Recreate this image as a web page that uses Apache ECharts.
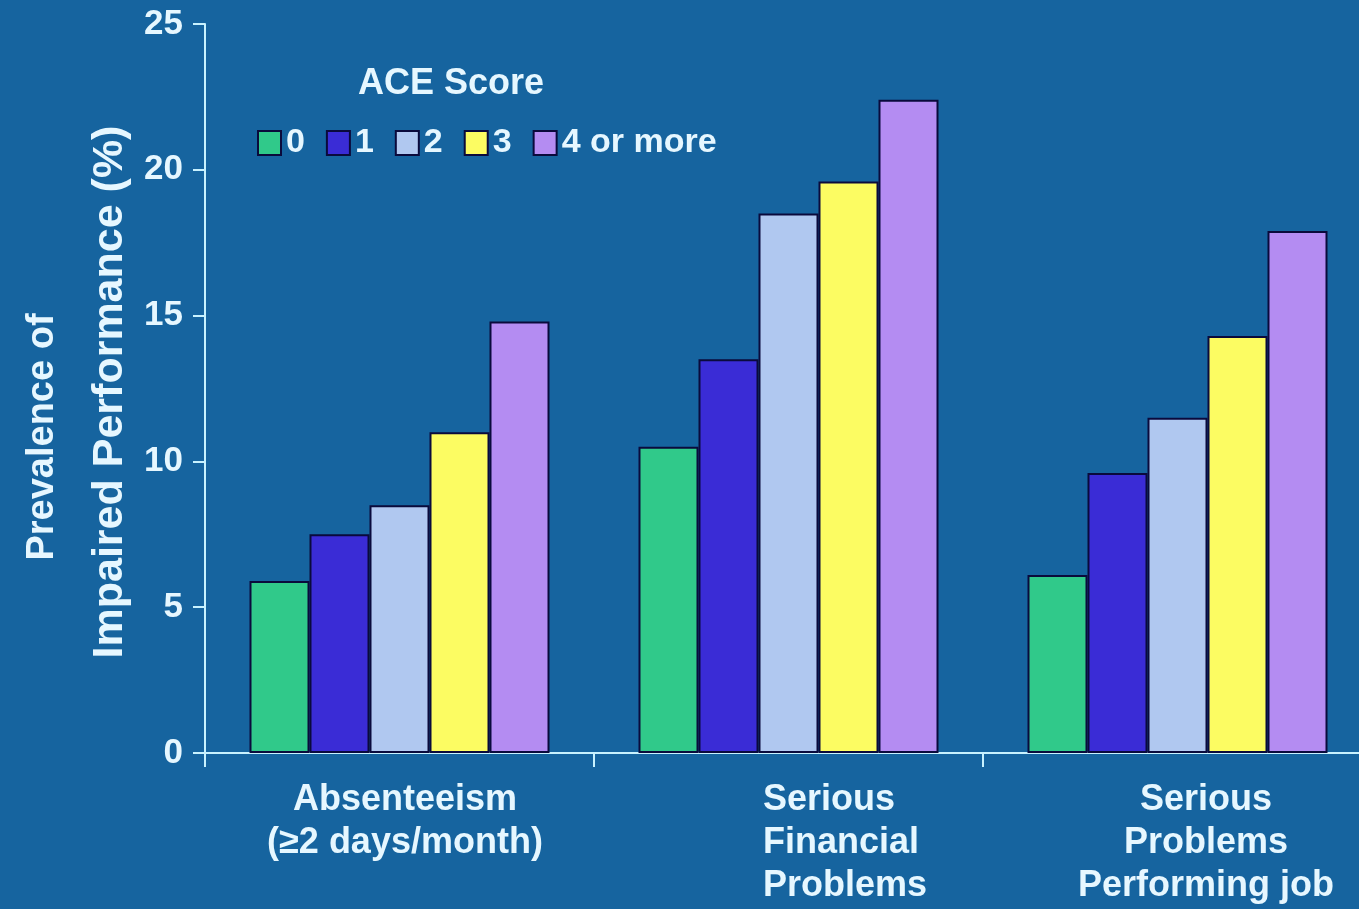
<!DOCTYPE html>
<html>
<head>
<meta charset="utf-8">
<script src="https://cdn.jsdelivr.net/npm/echarts@6/dist/echarts.min.js"></script>
<style>
html,body{margin:0;padding:0;background:#16649f;}
#chart{width:1359px;height:909px;}
</style>
</head>
<body>
<div id="chart"></div>
<script>
const categories = ['Absenteeism\n(≥2 days/month)', 'Serious\nFinancial\nProblems', 'Serious\nProblems\nPerforming job'];
const aceScores = ['0', '1', '2', '3', '4 or more'];
const score0 = [5.9, 10.5, 6.1];
const score1 = [7.5, 13.5, 9.6];
const score2 = [8.5, 18.5, 11.5];
const score3 = [11.0, 19.6, 14.3];
const score4plus = [14.8, 22.4, 17.9];
const seriesValues = [score0, score1, score2, score3, score4plus];
const yMin = 0, yMax = 25, yInterval = 5;
const legendTitle = 'ACE Score';
const yTitleLine1 = 'Prevalence of';
const yTitleLine2 = 'Impaired Performance (%)';

const barColors = ['#30c98a', '#3a2cd6', '#b0c8f0', '#fcfc62', '#b48cf2'];
const textColor = '#e6f7ff';
const axisColor = '#c8f2ff';
const font = 'Liberation Sans, Arial, sans-serif';

const chart = echarts.init(document.getElementById('chart'));

const labelStyle = { color: textColor, fontSize: 36, fontWeight: 'bold', fontFamily: font, lineHeight: 43 };

chart.setOption({
  backgroundColor: '#16649f',
  animation: false,
  title: {
    text: legendTitle,
    left: 358,
    top: 66,
    padding: 0,
    textStyle: { color: textColor, fontSize: 36, fontWeight: 'bold', fontFamily: font }
  },
  legend: {
    data: aceScores,
    left: 257,
    top: 126,
    padding: 0,
    icon: 'rect',
    itemWidth: 23,
    itemHeight: 24,
    itemGap: 21,
    textStyle: { color: textColor, fontSize: 34, fontWeight: 'bold', fontFamily: font }
  },
  grid: { left: 205, width: 1167, top: 24, bottom: 156, containLabel: false, outerBoundsMode: 'none' },
  xAxis: {
    type: 'category',
    data: categories,
    axisLine: { lineStyle: { color: axisColor, width: 2 } },
    axisTick: { show: true, length: 14, lineStyle: { color: axisColor, width: 2 } },
    axisLabel: {
      interval: 0,
      margin: 26,
      color: textColor,
      fontSize: 36,
      fontWeight: 'bold',
      fontFamily: font,
      lineHeight: 43,
      hideOverlap: false,
      formatter: function (value, index) {
        const key = 'c' + index;
        return value.split('\n').map(function (l) { return '{' + key + '|' + l + '}'; }).join('\n');
      },
      rich: {
        c0: Object.assign({ padding: [0, 0, 0, 11] }, labelStyle),
        c1: Object.assign({ width: 51, align: 'left' }, labelStyle),
        c2: Object.assign({ padding: [0, 0, 0, 57] }, labelStyle)
      }
    }
  },
  yAxis: {
    type: 'value',
    min: yMin,
    max: yMax,
    interval: yInterval,
    splitLine: { show: false },
    axisLine: { show: true, lineStyle: { color: axisColor, width: 2 } },
    axisTick: { show: true, length: 12, lineStyle: { color: axisColor, width: 2 } },
    axisLabel: { margin: 22, color: textColor, fontSize: 35, fontWeight: 'bold', fontFamily: font }
  },
  graphic: [
    {
      type: 'text', x: 43, y: 437, rotation: Math.PI / 2,
      style: { text: yTitleLine1, fill: textColor, fontSize: 38, fontWeight: 'bold', fontFamily: font, align: 'center', verticalAlign: 'middle' }
    },
    {
      type: 'text', x: 110, y: 392, rotation: Math.PI / 2,
      style: { text: yTitleLine2, fill: textColor, fontSize: 43, fontWeight: 'bold', fontFamily: font, align: 'center', verticalAlign: 'middle' }
    }
  ],
  series: aceScores.map(function (name, i) {
    return {
      name: name,
      type: 'bar',
      data: seriesValues[i],
      barWidth: 60,
      barGap: '0%',
      itemStyle: { color: barColors[i], borderColor: '#0a0a3c', borderWidth: 2 }
    };
  })
});
</script>
</body>
</html>
